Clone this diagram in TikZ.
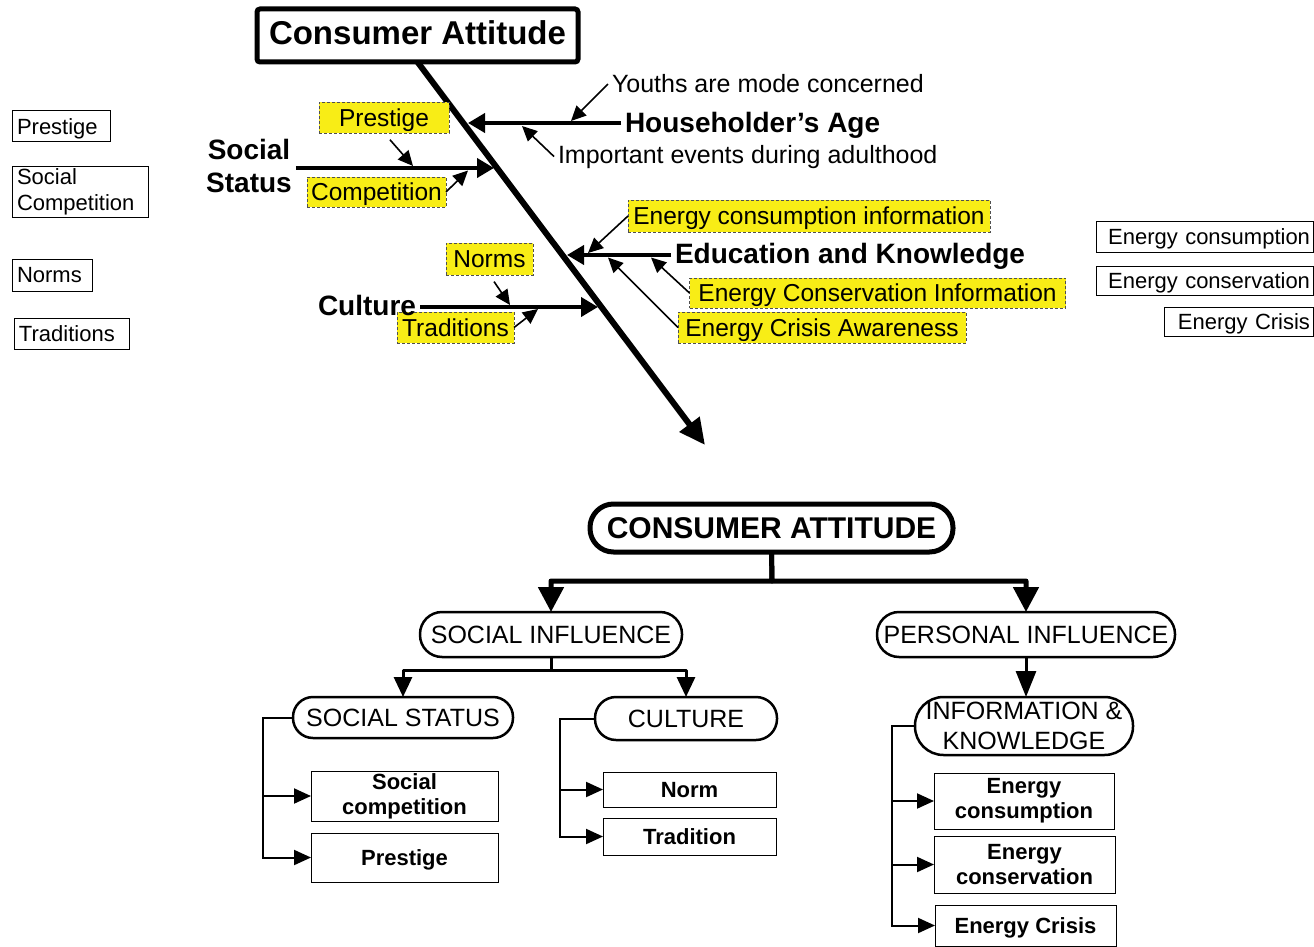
\documentclass[tikz,border=0pt]{standalone}
\usepackage{fontspec}
\setmainfont{Liberation Sans}
\usetikzlibrary{arrows.meta}
\definecolor{hlyellow}{RGB}{248,237,22}
\definecolor{hlline}{RGB}{80,80,80}
\begin{document}
\begin{tikzpicture}[x=1pt,y=-1pt,
  every node/.style={inner sep=0pt,outer sep=0pt},
  titlebox/.style={draw,line width=5pt,rounded corners=3pt,minimum width=321pt,minimum height=53pt,
    text depth=6pt,font=\fontsize{33}{38}\selectfont\bfseries},
  bone label/.style={outer xsep=4pt,font=\fontsize{28}{33}\selectfont\bfseries},
  note/.style={outer xsep=4pt,font=\fontsize{25}{29}\selectfont},
  hlbox/.style={draw=hlline,fill=hlyellow,dash pattern=on 3pt off 2pt,line width=0.8pt,
    text height=17.5pt,text depth=0pt,font=\fontsize{24.5}{28}\selectfont},
  plainbox/.style={draw,line width=1pt,inner xsep=5pt,font=\fontsize{22}{26}\selectfont},
  one line 22/.style={text height=15.75pt,text depth=0pt},
  spine/.style={line width=6pt,-{Triangle[length=26pt,width=24pt]}},
  bone/.style={line width=4pt,-{Triangle[length=17pt,width=19pt]}},
  twig/.style={line width=1.6pt,-{Triangle[length=15pt,width=14pt]}},
  rootpill/.style={draw,line width=5pt,rounded corners=23.5pt,minimum width=363pt,minimum height=48pt,
    font=\fontsize{30}{34}\selectfont\bfseries},
  pill/.style={draw,line width=2.5pt,font=\fontsize{25}{30}\selectfont},
  leaf/.style={draw,line width=0.9pt,align=center,font=\fontsize{22}{25}\selectfont\bfseries},
  trunk/.style={line width=5pt,line join=round,-{Triangle[length=25pt,width=25pt]}},
  limb/.style={line width=3pt,line join=round,-{Triangle[length=20pt,width=18pt]}},
  pilimb/.style={line width=3pt,-{Triangle[length=26pt,width=20pt]}},
  side/.style={line width=2pt,-{Triangle[length=17pt,width=15pt]}},
]
\useasboundingbox (0,0) rectangle (1314,947);

% ================= fishbone =================
\node[titlebox] (ca) at (417.5,35.5) {Consumer Attitude};
\coordinate (tail) at (705,445);
\coordinate (pHA) at (468,123);
\coordinate (pSS) at (494,168);
\coordinate (pEK) at (567,255);
\coordinate (pCU) at (598,307);
\draw[spine] (ca.south) -- (tail);

% Householder's Age
\node[bone label,anchor=base west] (ha) at (621,132) {Householder’s Age};
\draw[bone] (ha.west |- pHA) -- (pHA);
\coordinate (haY) at (571,121);
\coordinate (haI) at (522,126);
\node[note,anchor=base west] (yo) at (608,93) {Youths are mode concerned};
\node[note,anchor=base west] (ie) at (554,163) {Important events during adulthood};
\draw[twig] (yo.west) -- (haY);
\draw[twig] (ie.west) -- (haI);

% Social Status
\node[bone label,align=center] (ss) at (249,166) {Social\\Status};
\draw[bone] (ss.east |- pSS) -- (pSS);
\node[hlbox,minimum width=130pt,minimum height=31pt] (hpr) at (384,117.5) {Prestige};
\node[hlbox,minimum width=139pt,minimum height=30pt] (hcp) at (376.5,192) {Competition};
\coordinate (ssP) at (413,166);
\coordinate (ssC) at (468,170.5);
\draw[twig,shorten <=9pt] (hpr.south) -- (ssP);
\draw[twig] (hcp.east) -- (ssC);

% Education and Knowledge
\node[bone label,anchor=base west] (ek) at (671,263) {Education and Knowledge};
\draw[bone] (ek.west |- pEK) -- (pEK);
\node[hlbox,minimum width=362pt,minimum height=32pt] (heci) at (809,216) {Energy consumption information};
\node[hlbox,minimum width=376pt,minimum height=30pt] (hecv) at (877.5,293) {Energy Conservation Information};
\node[hlbox,minimum width=288pt,minimum height=31pt] (heca) at (822,327.5) {Energy Crisis Awareness};
\coordinate (ekA) at (588,253);
\coordinate (ekB) at (651,257.5);
\coordinate (ekC) at (608,257.5);
\draw[twig] (heci.west) -- (ekA);
\draw[twig] (hecv.west) -- (ekB);
\draw[twig] (heca.west) -- (ekC);

% Culture
\node[hlbox,minimum width=87pt,minimum height=32pt] (hno) at (489.5,259) {Norms};
\node[hlbox,minimum width=117pt,minimum height=31pt] (htr) at (455.5,327.5) {Traditions};
\node[bone label,anchor=base east] (cu) at (420,315) {Culture};
\draw[bone] (cu.east |- pCU) -- (pCU);
\coordinate (cuN) at (510,305);
\coordinate (cuT) at (538,309);
\draw[twig,shorten <=8pt] (hno.south) -- (cuN);
\draw[twig] (htr.east) -- (cuT);

% legend boxes, left
\node[plainbox,one line 22,text width=88pt,align=left,minimum height=31pt,anchor=north west] (lp) at (12,111) {Prestige};
\node[plainbox,text width=126pt,align=left,minimum height=51pt,anchor=north west] (lsc) at (12,166) {Social\\Competition};
\node[plainbox,one line 22,text width=70pt,align=left,minimum height=32pt,anchor=north west] (ln) at (12,259) {Norms};
\node[plainbox,one line 22,text width=105pt,align=left,minimum height=31pt,anchor=north west] (lt) at (14,318) {Traditions};

% legend boxes, right
\node[plainbox,one line 22,inner xsep=3pt,text width=211pt,align=right,minimum height=31pt,anchor=north east] (rc) at (1313,221) {Energy consumption};
\node[plainbox,one line 22,inner xsep=3pt,text width=211pt,align=right,minimum height=29pt,anchor=north east] (rv) at (1313,266) {Energy conservation};
\node[plainbox,one line 22,inner xsep=3pt,text width=143pt,align=right,minimum height=29pt,anchor=north east] (rk) at (1313,307) {Energy Crisis};

% ================= hierarchy =================
\node[rootpill] (root) at (771.5,528) {CONSUMER ATTITUDE};
\node[pill,rounded corners=22pt,minimum width=262pt,minimum height=45pt] (si) at (551,634.5) {SOCIAL INFLUENCE};
\node[pill,rounded corners=22pt,minimum width=298pt,minimum height=45pt] (pi) at (1026,634.5) {PERSONAL INFLUENCE};
\node[pill,rounded corners=20pt,minimum width=220pt,minimum height=41pt] (sst) at (403,717.5) {SOCIAL STATUS};
\node[pill,rounded corners=21pt,minimum width=182pt,minimum height=43pt] (cul) at (686,718.5) {CULTURE};
\node[pill,rounded corners=28.5pt,minimum width=218pt,minimum height=58pt,align=center] (ik) at (1024,726) {INFORMATION \&\\KNOWLEDGE};

\node[leaf,minimum width=187pt,minimum height=50pt] (lsc2) at (404.5,796) {Social\\competition};
\node[leaf,one line 22,minimum width=187pt,minimum height=49pt] (lpr2) at (404.5,857.5) {Prestige};
\node[leaf,one line 22,minimum width=173pt,minimum height=35pt] (lno2) at (689.5,789.5) {Norm};
\node[leaf,one line 22,minimum width=173pt,minimum height=37pt] (ltr2) at (689.5,836.5) {Tradition};
\node[leaf,minimum width=180pt,minimum height=56pt] (lec) at (1024,801) {Energy\\consumption};
\node[leaf,minimum width=181pt,minimum height=57pt] (lev) at (1024.5,864.5) {Energy\\conservation};
\node[leaf,one line 22,minimum width=181pt,minimum height=41pt] (lcr) at (1025.5,925.5) {Energy Crisis};

\coordinate (j1) at (772,581);
\draw[trunk] (root.south) -- (j1) -| (si.north);
\draw[trunk] (root.south) -- (j1) -| (pi.north);
\coordinate (j2) at (551,670);
\draw[limb] (si.south) -- (j2) -| (sst.north);
\draw[limb] (si.south) -- (j2) -| (cul.north);
\draw[pilimb] (pi.south) -- (pi.south |- ik.north);

\draw[side] (sst.west) -- ++(-30,0) |- (lsc2.west);
\draw[side] (sst.west) -- ++(-30,0) |- (lpr2.west);
\draw[side] (cul.west) -- ++(-35,0) |- (lno2.west);
\draw[side] (cul.west) -- ++(-35,0) |- (ltr2.west);
\draw[side] (ik.west) -- ++(-23,0) |- (lec.west);
\draw[side] (ik.west) -- ++(-23,0) |- (lev.west);
\draw[side] (ik.west) -- ++(-23,0) |- (lcr.west);
\end{tikzpicture}
\end{document}
